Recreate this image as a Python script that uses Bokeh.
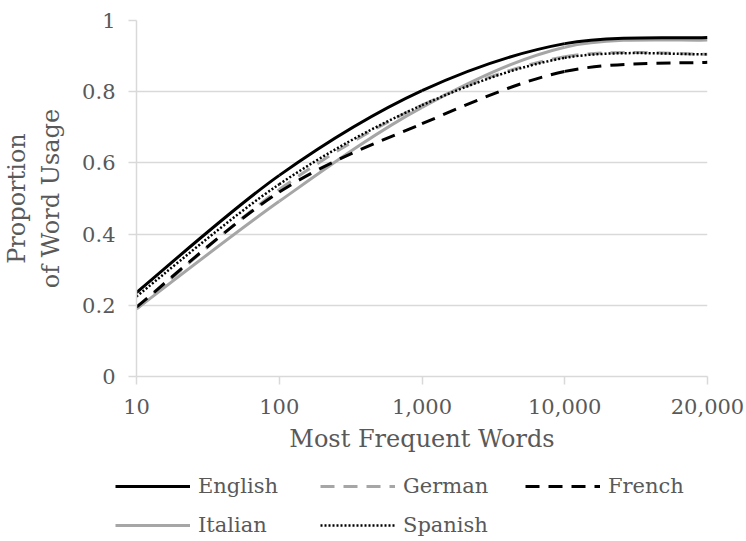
import numpy as np
from bokeh.plotting import figure
from bokeh.layouts import column
from bokeh.models import Range1d, FixedTicker, Legend, LegendItem
from bokeh.embed import file_html
from bokeh.resources import INLINE

categories = ["10", "100", "1,000", "10,000", "20,000"]
english = [0.236, 0.565, 0.803, 0.935, 0.952]
german = [0.19, 0.525, 0.762, 0.898, 0.905]
french = [0.195, 0.518, 0.710, 0.857, 0.883]
italian = [0.19, 0.492, 0.756, 0.925, 0.945]
spanish = [0.225, 0.540, 0.762, 0.895, 0.905]
y_ticks = [0, 0.2, 0.4, 0.6, 0.8, 1.0]
y_tick_labels = ["0", "0.2", "0.4", "0.6", "0.8", "1"]

FONT = "DejaVu Serif"
TXT = "#595959"
GRID = "#d9d9d9"

p = figure(width=746, height=460, output_backend="svg", toolbar_location=None,
           x_range=Range1d(0, len(categories) - 1), y_range=Range1d(0, 1),
           min_border_left=135, min_border_right=39, min_border_top=20, min_border_bottom=84)
p.outline_line_color = None
p.background_fill_color = "white"
p.frame_align = False

xs_idx = list(range(len(categories)))
p.xaxis.ticker = FixedTicker(ticks=xs_idx)
p.xaxis.major_label_overrides = {i: c for i, c in enumerate(categories)}
p.yaxis.ticker = FixedTicker(ticks=y_ticks)
p.yaxis.major_label_overrides = {t: l for t, l in zip(y_ticks, y_tick_labels)}

for ax in (p.xaxis, p.yaxis):
    ax.axis_line_color = GRID
    ax.axis_line_width = 1.5
    ax.major_tick_line_color = GRID
    ax.major_tick_line_width = 1.5
    ax.major_tick_out = 8
    ax.major_tick_in = 0
    ax.minor_tick_line_color = None
    ax.major_label_text_font = FONT
    ax.major_label_text_color = TXT
    ax.major_label_text_font_size = "21px"
    ax.axis_label_text_font = FONT
    ax.axis_label_text_color = TXT
    ax.axis_label_text_font_size = "24px"
    ax.axis_label_text_font_style = "normal"

p.xaxis.axis_label = "Most Frequent Words"
p.yaxis.axis_label = "Proportion\nof Word Usage"
p.xaxis.major_label_standoff = 14
p.yaxis.major_label_standoff = 13
p.xaxis.axis_label_standoff = 8
p.yaxis.axis_label_standoff = 14
p.yaxis.major_label_orientation = "horizontal"

p.xgrid.grid_line_color = None
p.ygrid.grid_line_color = GRID
p.ygrid.grid_line_width = 1.5


def smooth(xs, ys):
    # Excel-style smoothed line: cubic Bezier per segment (Catmull-Rom control points)
    n = len(xs)
    px = np.array(xs, float)
    py = np.array(ys, float)
    x0, y0, x1, y1, cx0, cy0, cx1, cy1 = [], [], [], [], [], [], [], []
    for i in range(n - 1):
        im1 = max(i - 1, 0)
        ip2 = min(i + 2, n - 1)
        x0.append(px[i]); y0.append(py[i])
        x1.append(px[i + 1]); y1.append(py[i + 1])
        cx0.append(px[i] + (px[i + 1] - px[im1]) / 6)
        cy0.append(py[i] + (py[i + 1] - py[im1]) / 6)
        cx1.append(px[i + 1] - (px[ip2] - px[i]) / 6)
        cy1.append(py[i + 1] - (py[ip2] - py[i]) / 6)
    return dict(x0=x0, y0=y0, x1=x1, y1=y1, cx0=cx0, cy0=cy0, cx1=cx1, cy1=cy1)


series = [
    ("English", english, "#000000", "solid", 3),
    ("German", german, "#a6a6a6", "14 9", 3),
    ("French", french, "#000000", "14 9", 3),
    ("Italian", italian, "#a6a6a6", "solid", 3),
    ("Spanish", spanish, "#000000", "2 2", 2.5),
]
draw_order = ["Italian", "German", "French", "Spanish", "English"]
for name in draw_order:
    _, vals, col, dash, w = [s for s in series if s[0] == name][0]
    p.bezier(**smooth(xs_idx, vals), line_color=col, line_width=w, line_dash=dash)

# Legend strip below the chart
lg = figure(width=746, height=81, output_backend="svg", toolbar_location=None,
            x_range=Range1d(0, 1), y_range=Range1d(0, 1),
            x_axis_type=None, y_axis_type=None,
            min_border=0, min_border_left=0, min_border_right=0,
            min_border_top=0, min_border_bottom=0)
lg.outline_line_color = None
lg.grid.visible = False
lg.frame_align = False
items = []
for name, vals, col, dash, w in series:
    r = lg.line(x=[float("nan")], y=[float("nan")], line_color=col, line_width=w, line_dash=dash)
    items.append(LegendItem(label=name, renderers=[r]))
legend = Legend(items=items, ncols=3, orientation="horizontal",
                location=(115, 3),
                label_text_font=FONT, label_text_color=TXT, label_text_font_size="21px",
                glyph_width=75, glyph_height=26, label_standoff=8, spacing=13,
                label_width=109, label_height=26,
                padding=0, margin=0, border_line_color=None, background_fill_alpha=0)
lg.add_layout(legend, "center")

layout = column(p, lg, spacing=0)
open("out.html", "w").write(file_html(layout, INLINE))
